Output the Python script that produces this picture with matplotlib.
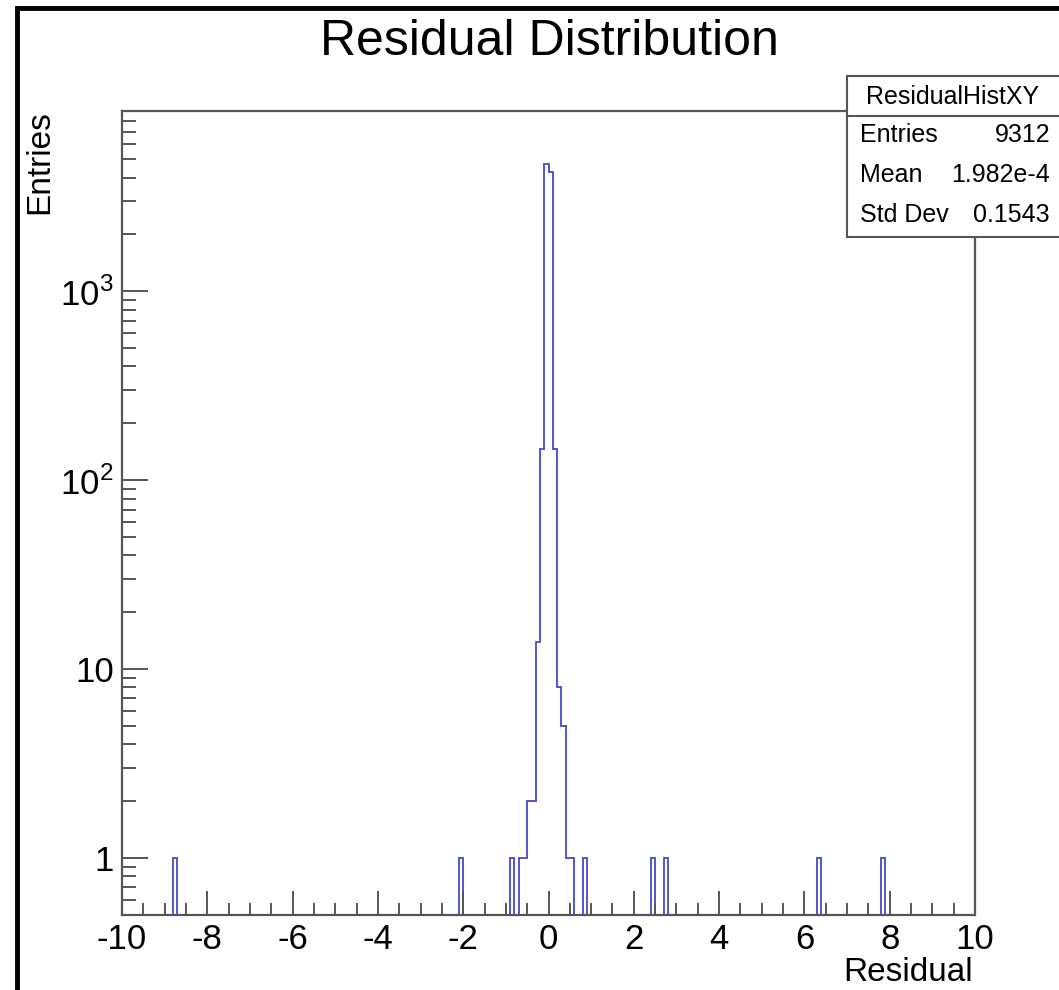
import numpy as np
import matplotlib
matplotlib.use('Agg')
import matplotlib.pyplot as plt
from matplotlib.patches import Rectangle
from matplotlib.ticker import FixedLocator, FixedFormatter, MultipleLocator

plt.rcParams['font.family'] = ['Liberation Sans', 'DejaVu Sans']
plt.rcParams['mathtext.fontset'] = 'custom'
plt.rcParams['mathtext.rm'] = 'Liberation Sans'
plt.rcParams['axes.unicode_minus'] = False

# histogram: 200 bins from -10 to 10, only non-empty bins listed (left edges)
n_bins = 200
x_min, x_max = -10, 10
bin_lows = [-8.8, -2.1, -0.9, -0.7, -0.6, -0.5, -0.4, -0.3, -0.2, -0.1,
            0.0, 0.1, 0.2, 0.3, 0.4, 0.5, 0.8, 2.4, 2.7, 6.3, 7.8]
bin_counts = [1, 1, 1, 1, 1, 2, 2, 14, 146, 4707,
              4270, 146, 8, 5, 1, 1, 1, 1, 1, 1, 1]

stats_name = 'ResidualHistXY'
stats_rows = [('Entries', '9312'), ('Mean', '1.982e-4'), ('Std Dev', '0.1543')]

edges = np.linspace(x_min, x_max, n_bins + 1)
counts = np.zeros(n_bins)
for lo, c in zip(bin_lows, bin_counts):
    counts[int(round((lo - x_min) / 0.1))] = c

W, H = 1059, 990
fig = plt.figure(figsize=(W / 100, H / 100), dpi=100)
ax = fig.add_axes([122 / W, 1 - 915 / H, (975 - 122) / W, (915 - 111) / H])

ax.stairs(counts, edges, color='#4848c8', linewidth=1.3)
ax.set_yscale('log')
ax.set_xlim(x_min, x_max)
ax.set_ylim(0.5, 9000)

axis_col = '#555555'
for s in ax.spines.values():
    s.set_color(axis_col)
    s.set_linewidth(1.6)

ax.xaxis.set_major_locator(MultipleLocator(2))
ax.xaxis.set_minor_locator(MultipleLocator(0.5))
ax.yaxis.set_major_locator(FixedLocator([1, 10, 100, 1000]))
ax.yaxis.set_major_formatter(FixedFormatter(['1', '10', r'$10^{2}$', r'$10^{3}$']))
minors = [m * 10 ** e for e in range(-1, 4) for m in range(2, 10)]
ax.yaxis.set_minor_locator(FixedLocator(minors))
ax.yaxis.set_minor_formatter(FixedFormatter([''] * len(minors)))

ax.tick_params(axis='x', which='major', direction='in', length=17, width=1.4,
               color=axis_col, labelsize=25, pad=6, top=False)
ax.tick_params(axis='x', which='minor', direction='in', length=9, width=1.4,
               color=axis_col, top=False)
ax.tick_params(axis='y', which='major', direction='in', length=19, width=1.4,
               color=axis_col, labelsize=25, pad=6, right=False)
ax.tick_params(axis='y', which='minor', direction='in', length=10, width=1.4,
               color=axis_col, right=False)

fig.text(973 / W, 1 - 981 / H, 'Residual', fontsize=24, ha='right', va='baseline')
fig.text(40 / W, 1 - 110 / H, 'Entries', fontsize=24, rotation=90,
         ha='center', va='top')
fig.text(549 / W, 1 - 55 / H, 'Residual Distribution', fontsize=36,
         ha='center', va='baseline')

# outer frame
fig.patches.append(Rectangle((17 / W, -0.1), 1.2, 1 - 8 / H + 0.1,
                             transform=fig.transFigure, fill=False,
                             edgecolor='black', linewidth=3.5, zorder=5))

# stats box
bx0, by_top, by_bot, by_sep = 847, 76, 237, 116
fig.patches.append(Rectangle((bx0 / W, 1 - by_bot / H), 0.5, (by_bot - by_top) / H,
                             transform=fig.transFigure, facecolor='white',
                             edgecolor=axis_col, linewidth=1.5, zorder=2))
fig.add_artist(plt.Line2D([bx0 / W, 1.0], [1 - by_sep / H] * 2,
                          transform=fig.transFigure, color=axis_col,
                          linewidth=1.5, zorder=3))
fig.text(953 / W, 1 - 97 / H, stats_name, fontsize=18, ha='center', va='center',
         zorder=4)
for i, (k, v) in enumerate(stats_rows):
    yy = 1 - (135 + 40 * i) / H
    fig.text(860 / W, yy, k, fontsize=18, ha='left', va='center', zorder=4)
    fig.text(1050 / W, yy, v, fontsize=18, ha='right', va='center', zorder=4)

fig.savefig('out.png', dpi=100)
